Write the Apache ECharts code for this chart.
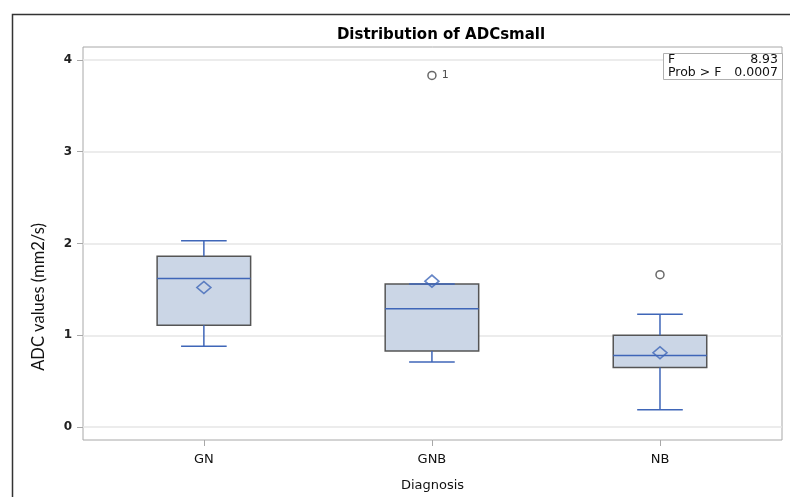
<!doctype html>
<html>
<head>
<meta charset="UTF-8">
<title>Distribution of ADCsmall</title>
<script src="https://cdn.jsdelivr.net/npm/echarts@6/dist/echarts.min.js"></script>
<style>
  html, body { margin: 0; padding: 0; background: #fff; }
  #main { width: 790px; height: 497px; }
</style>
</head>
<body>
<div id="main"></div>
<script type="text/javascript">
// box plot data
var categories = ['GN', 'GNB', 'NB'];
var whiskerLow = [0.88, 0.71, 0.19];
var q1 = [1.11, 0.83, 0.65];
var median = [1.62, 1.29, 0.78];
var q3 = [1.86, 1.56, 1.00];
var whiskerHigh = [2.03, 1.56, 1.23];
var means = [1.52, 1.59, 0.81];
var outlierCat = ['GNB', 'NB'];
var outlierVal = [3.83, 1.66];
var outlierLabel = ['1', ''];
var yTicks = [0, 1, 2, 3, 4];
var xTicks = [0, 1, 2];

var blue = '#3f66b8';
var boxFill = '#cbd6e6';
var boxBorder = '#555555';

var myChart = echarts.init(document.getElementById('main'));

var boxData = [];
for (var i = 0; i < categories.length; i++) {
  boxData.push([i, whiskerLow[i], q1[i], median[i], q3[i], whiskerHigh[i]]);
}
var meanData = [];
for (var i = 0; i < categories.length; i++) {
  meanData.push([i, means[i]]);
}
var outData = [];
for (var i = 0; i < outlierCat.length; i++) {
  outData.push({ value: [categories.indexOf(outlierCat[i]), outlierVal[i]], name: outlierLabel[i] });
}

// box, median and whiskers, drawn through the axes
function renderBox(params, api) {
  var idx = api.value(0);
  var unit = api.size([1, 0])[0];
  var bw = unit * 0.41, cw = unit * 0.2;
  var pLow = api.coord([idx, api.value(1)]);
  var pQ1 = api.coord([idx, api.value(2)]);
  var pMed = api.coord([idx, api.value(3)]);
  var pQ3 = api.coord([idx, api.value(4)]);
  var pHigh = api.coord([idx, api.value(5)]);
  var x = pMed[0];
  var line = { stroke: blue, lineWidth: 1.5 };
  return {
    type: 'group',
    children: [
      { type: 'rect', shape: { x: x - bw / 2, y: pQ3[1], width: bw, height: pQ1[1] - pQ3[1] },
        style: { fill: boxFill, stroke: boxBorder, lineWidth: 1.5 } },
      { type: 'line', shape: { x1: x - bw / 2, y1: pMed[1], x2: x + bw / 2, y2: pMed[1] }, style: line },
      { type: 'line', shape: { x1: x, y1: pQ3[1], x2: x, y2: pHigh[1] }, style: line },
      { type: 'line', shape: { x1: x - cw / 2, y1: pHigh[1], x2: x + cw / 2, y2: pHigh[1] }, style: line },
      { type: 'line', shape: { x1: x, y1: pQ1[1], x2: x, y2: pLow[1] }, style: line },
      { type: 'line', shape: { x1: x - cw / 2, y1: pLow[1], x2: x + cw / 2, y2: pLow[1] }, style: line }
    ]
  };
}

var txt = { fontFamily: 'DejaVu Sans', fontSize: 12.5, fill: '#111', verticalAlign: 'middle' };

var option = {
  animation: false,
  title: {
    text: 'Distribution of ADCsmall',
    left: 436,
    top: 23,
    textAlign: 'center',
    textStyle: { fontFamily: 'DejaVu Sans', fontSize: 15, fontWeight: 'bold', color: '#000' }
  },
  graphic: [
    { type: 'rect', left: 10, top: 12, shape: { width: 800, height: 500 },
      style: { fill: 'none', stroke: '#333', lineWidth: 1.5 }, silent: true },
    { type: 'text', x: 39, y: 297, rotation: Math.PI / 2,
      style: { text: 'ADC values (mm2/s)', fontFamily: 'Lato', fontSize: 16.5, fill: '#111',
               align: 'center', verticalAlign: 'middle' } },
    { type: 'rect', left: 663, top: 53, shape: { width: 119, height: 26 },
      style: { fill: '#fff', stroke: '#b0b0b0', lineWidth: 1 }, z: 100 },
    { type: 'text', x: 668, y: 60, z: 101, style: Object.assign({ text: 'F' }, txt) },
    { type: 'text', x: 778, y: 60, z: 101, style: Object.assign({ text: '8.93', align: 'right' }, txt) },
    { type: 'text', x: 668, y: 73, z: 101, style: Object.assign({ text: 'Prob > F' }, txt) },
    { type: 'text', x: 778, y: 73, z: 101, style: Object.assign({ text: '0.0007', align: 'right' }, txt) }
  ],
  grid: {
    left: 83, right: 8, top: 47, bottom: 54,
    show: true, borderColor: '#a8a8a8', borderWidth: 1
  },
  xAxis: {
    type: 'value',
    min: -0.53,
    max: 2.535,
    name: 'Diagnosis',
    nameLocation: 'middle',
    nameGap: 39,
    nameTextStyle: { fontFamily: 'DejaVu Sans', fontSize: 13, color: '#111' },
    axisLine: { show: false, onZero: false },
    axisTick: { show: true, customValues: xTicks, length: 6, lineStyle: { color: '#a8a8a8' } },
    axisLabel: { customValues: xTicks, margin: 13, fontFamily: 'DejaVu Sans', fontSize: 13, color: '#111',
                 formatter: function (v) { return categories[v]; } },
    splitLine: { show: false }
  },
  yAxis: {
    type: 'value',
    min: -0.14,
    max: 4.14,
    axisLine: { show: false, onZero: false },
    axisTick: { show: true, length: 6, customValues: yTicks, lineStyle: { color: '#a8a8a8' } },
    axisLabel: { customValues: yTicks, margin: 11, fontFamily: 'DejaVu Sans', fontSize: 12,
                 fontWeight: 'bold', color: '#222' },
    splitLine: { show: true, lineStyle: { color: '#e6e6e6', width: 1.5 } }
  },
  series: [
    {
      type: 'custom',
      renderItem: renderBox,
      encode: { x: 0, y: [1, 2, 3, 4, 5] },
      data: boxData,
      z: 2
    },
    {
      type: 'scatter',
      symbol: 'diamond',
      symbolSize: [14, 12],
      itemStyle: { color: 'transparent', borderColor: blue, borderWidth: 1.6 },
      data: meanData,
      z: 3
    },
    {
      type: 'scatter',
      symbol: 'circle',
      symbolSize: 8,
      itemStyle: { color: 'transparent', borderColor: '#444', borderWidth: 1.5 },
      label: { show: true, position: 'right', distance: 5, formatter: '{b}',
               fontFamily: 'DejaVu Sans', fontSize: 11, color: '#222' },
      data: outData,
      z: 3
    }
  ]
};
myChart.setOption(option);
</script>
</body>
</html>
